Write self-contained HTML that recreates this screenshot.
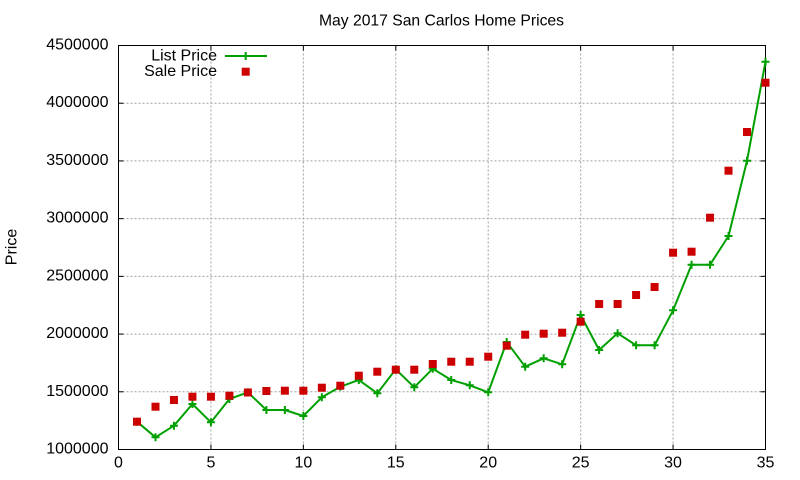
<!DOCTYPE html>
<html>
<head>
<meta charset="utf-8">
<style>
  html, body { margin: 0; padding: 0; background: #ffffff; }
  svg { display: block; }
  text { font-family: "Liberation Sans", Arial, sans-serif; fill: #000; }
</style>
</head>
<body>
<svg width="800" height="480" viewBox="0 0 800 480" xmlns="http://www.w3.org/2000/svg">
  <rect x="0" y="0" width="800" height="480" fill="#ffffff"/>

  <!-- grid -->
  <g stroke="#a0a0a0" stroke-width="1" stroke-dasharray="2,2" fill="none">
    <line x1="210.93" y1="45.5" x2="210.93" y2="449.5"/>
    <line x1="303.36" y1="45.5" x2="303.36" y2="449.5"/>
    <line x1="395.79" y1="45.5" x2="395.79" y2="449.5"/>
    <line x1="488.21" y1="45.5" x2="488.21" y2="449.5"/>
    <line x1="580.64" y1="45.5" x2="580.64" y2="449.5"/>
    <line x1="673.07" y1="45.5" x2="673.07" y2="449.5"/>
    <line x1="118.5" y1="391.79" x2="765.5" y2="391.79"/>
    <line x1="118.5" y1="334.07" x2="765.5" y2="334.07"/>
    <line x1="118.5" y1="276.36" x2="765.5" y2="276.36"/>
    <line x1="118.5" y1="218.64" x2="765.5" y2="218.64"/>
    <line x1="118.5" y1="160.93" x2="765.5" y2="160.93"/>
    <line x1="118.5" y1="103.21" x2="765.5" y2="103.21"/>
  </g>

  <!-- ticks -->
  <g stroke="#000" stroke-width="1" fill="none">
    <line x1="210.93" y1="449.5" x2="210.93" y2="444.5"/>
    <line x1="303.36" y1="449.5" x2="303.36" y2="444.5"/>
    <line x1="395.79" y1="449.5" x2="395.79" y2="444.5"/>
    <line x1="488.21" y1="449.5" x2="488.21" y2="444.5"/>
    <line x1="580.64" y1="449.5" x2="580.64" y2="444.5"/>
    <line x1="673.07" y1="449.5" x2="673.07" y2="444.5"/>
    <line x1="210.93" y1="45.5" x2="210.93" y2="50.5"/>
    <line x1="303.36" y1="45.5" x2="303.36" y2="50.5"/>
    <line x1="395.79" y1="45.5" x2="395.79" y2="50.5"/>
    <line x1="488.21" y1="45.5" x2="488.21" y2="50.5"/>
    <line x1="580.64" y1="45.5" x2="580.64" y2="50.5"/>
    <line x1="673.07" y1="45.5" x2="673.07" y2="50.5"/>
    <line x1="118.5" y1="391.79" x2="123.5" y2="391.79"/>
    <line x1="118.5" y1="334.07" x2="123.5" y2="334.07"/>
    <line x1="118.5" y1="276.36" x2="123.5" y2="276.36"/>
    <line x1="118.5" y1="218.64" x2="123.5" y2="218.64"/>
    <line x1="118.5" y1="160.93" x2="123.5" y2="160.93"/>
    <line x1="118.5" y1="103.21" x2="123.5" y2="103.21"/>
    <line x1="765.5" y1="391.79" x2="760.5" y2="391.79"/>
    <line x1="765.5" y1="334.07" x2="760.5" y2="334.07"/>
    <line x1="765.5" y1="276.36" x2="760.5" y2="276.36"/>
    <line x1="765.5" y1="218.64" x2="760.5" y2="218.64"/>
    <line x1="765.5" y1="160.93" x2="760.5" y2="160.93"/>
    <line x1="765.5" y1="103.21" x2="760.5" y2="103.21"/>
  </g>

  <!-- border -->
  <rect x="118.5" y="45.5" width="647" height="404" fill="none" stroke="#000" stroke-width="1"/>

  <!-- y tick labels -->
  <g font-size="16" text-anchor="end">
    <text x="108.5" y="453.5">1000000</text>
    <text x="108.5" y="395.8">1500000</text>
    <text x="108.5" y="338.1">2000000</text>
    <text x="108.5" y="280.4">2500000</text>
    <text x="108.5" y="222.6">3000000</text>
    <text x="108.5" y="164.9">3500000</text>
    <text x="108.5" y="107.2">4000000</text>
    <text x="108.5" y="49.5">4500000</text>
  </g>

  <!-- x tick labels -->
  <g font-size="16" text-anchor="middle">
    <text x="118.5" y="467.5">0</text>
    <text x="210.93" y="467.5">5</text>
    <text x="303.36" y="467.5">10</text>
    <text x="395.79" y="467.5">15</text>
    <text x="488.21" y="467.5">20</text>
    <text x="580.64" y="467.5">25</text>
    <text x="673.07" y="467.5">30</text>
    <text x="765.5" y="467.5">35</text>
  </g>

  <!-- title -->
  <text x="441.5" y="25.7" font-size="15.7" text-anchor="middle">May 2017 San Carlos Home Prices</text>

  <!-- y label -->
  <text transform="translate(16.5,247) rotate(-90)" font-size="16" text-anchor="middle">Price</text>

  <!-- List Price line -->
  <polyline fill="none" stroke="#00a000" stroke-width="2" stroke-linejoin="round"
    points="137.0,421.7 155.5,437.3 173.96,425.7 192.44,404 210.93,422.3 229.41,399 247.9,392.3 266.39,410 284.87,410 303.36,416 321.84,397.3 340.33,386.7 358.81,380 377.3,393.3 395.79,369.3 414.27,387.3 432.76,368.7 451.24,380 469.73,385.3 488.21,392.3 506.7,342 525.19,366.7 543.67,358.3 562.16,364.3 580.64,315 599.13,350 617.61,333.3 636.1,345.3 654.59,345.3 673.07,310.3 691.56,264.7 710.04,264.7 728.53,236 747.01,160.7 765.5,61.7"/>

  <!-- List Price markers -->
  <g stroke="#00a000" stroke-width="2" fill="none">
    <path d="M133,421.7h8M137,417.7v8"/>
    <path d="M151.5,437.3h8M155.5,433.3v8"/>
    <path d="M169.96,425.7h8M173.96,421.7v8"/>
    <path d="M188.44,404h8M192.44,400v8"/>
    <path d="M206.93,422.3h8M210.93,418.3v8"/>
    <path d="M225.41,399h8M229.41,395v8"/>
    <path d="M243.9,392.3h8M247.9,388.3v8"/>
    <path d="M262.39,410h8M266.39,406v8"/>
    <path d="M280.87,410h8M284.87,406v8"/>
    <path d="M299.36,416h8M303.36,412v8"/>
    <path d="M317.84,397.3h8M321.84,393.3v8"/>
    <path d="M336.33,386.7h8M340.33,382.7v8"/>
    <path d="M354.81,380h8M358.81,376v8"/>
    <path d="M373.3,393.3h8M377.3,389.3v8"/>
    <path d="M391.79,369.3h8M395.79,365.3v8"/>
    <path d="M410.27,387.3h8M414.27,383.3v8"/>
    <path d="M428.76,368.7h8M432.76,364.7v8"/>
    <path d="M447.24,380h8M451.24,376v8"/>
    <path d="M465.73,385.3h8M469.73,381.3v8"/>
    <path d="M484.21,392.3h8M488.21,388.3v8"/>
    <path d="M502.7,342h8M506.7,338v8"/>
    <path d="M521.19,366.7h8M525.19,362.7v8"/>
    <path d="M539.67,358.3h8M543.67,354.3v8"/>
    <path d="M558.16,364.3h8M562.16,360.3v8"/>
    <path d="M576.64,315h8M580.64,311v8"/>
    <path d="M595.13,350h8M599.13,346v8"/>
    <path d="M613.61,333.3h8M617.61,329.3v8"/>
    <path d="M632.1,345.3h8M636.1,341.3v8"/>
    <path d="M650.59,345.3h8M654.59,341.3v8"/>
    <path d="M669.07,310.3h8M673.07,306.3v8"/>
    <path d="M687.56,264.7h8M691.56,260.7v8"/>
    <path d="M706.04,264.7h8M710.04,260.7v8"/>
    <path d="M724.53,236h8M728.53,232v8"/>
    <path d="M743.01,160.7h8M747.01,156.7v8"/>
    <path d="M761.5,61.7h8M765.5,57.7v8"/>
  </g>

  <!-- Sale Price markers -->
  <g fill="#cc0000">
    <rect x="133" y="417.7" width="8" height="8"/>
    <rect x="151.5" y="402.7" width="8" height="8"/>
    <rect x="169.96" y="396" width="8" height="8"/>
    <rect x="188.44" y="392.7" width="8" height="8"/>
    <rect x="206.93" y="392.7" width="8" height="8"/>
    <rect x="225.41" y="391.7" width="8" height="8"/>
    <rect x="243.9" y="388.5" width="8" height="8"/>
    <rect x="262.39" y="387" width="8" height="8"/>
    <rect x="280.87" y="386.7" width="8" height="8"/>
    <rect x="299.36" y="386.7" width="8" height="8"/>
    <rect x="317.84" y="383.7" width="8" height="8"/>
    <rect x="336.33" y="381.7" width="8" height="8"/>
    <rect x="354.81" y="371.7" width="8" height="8"/>
    <rect x="373.3" y="367.7" width="8" height="8"/>
    <rect x="391.79" y="365.7" width="8" height="8"/>
    <rect x="410.27" y="365.7" width="8" height="8"/>
    <rect x="428.76" y="360" width="8" height="8"/>
    <rect x="447.24" y="357.7" width="8" height="8"/>
    <rect x="465.73" y="357.7" width="8" height="8"/>
    <rect x="484.21" y="352.7" width="8" height="8"/>
    <rect x="502.7" y="341.7" width="8" height="8"/>
    <rect x="521.19" y="330.7" width="8" height="8"/>
    <rect x="539.67" y="329.7" width="8" height="8"/>
    <rect x="558.16" y="328.7" width="8" height="8"/>
    <rect x="576.64" y="317.7" width="8" height="8"/>
    <rect x="595.13" y="300" width="8" height="8"/>
    <rect x="613.61" y="300" width="8" height="8"/>
    <rect x="632.1" y="291" width="8" height="8"/>
    <rect x="650.59" y="283" width="8" height="8"/>
    <rect x="669.07" y="248.7" width="8" height="8"/>
    <rect x="687.56" y="247.7" width="8" height="8"/>
    <rect x="706.04" y="213.7" width="8" height="8"/>
    <rect x="724.53" y="166.7" width="8" height="8"/>
    <rect x="743.01" y="128" width="8" height="8"/>
    <rect x="761.5" y="78.7" width="8" height="8"/>
  </g>

  <!-- legend -->
  <g font-size="16" text-anchor="end">
    <text x="217" y="60.3">List Price</text>
    <text x="217" y="76">Sale Price</text>
  </g>
  <line x1="225" y1="56" x2="267" y2="56" stroke="#00a000" stroke-width="2"/>
  <path d="M241.7,56h8M245.7,52v8" stroke="#00a000" stroke-width="2" fill="none"/>
  <rect x="241.7" y="67.7" width="8" height="8" fill="#cc0000"/>
</svg>
</body>
</html>
